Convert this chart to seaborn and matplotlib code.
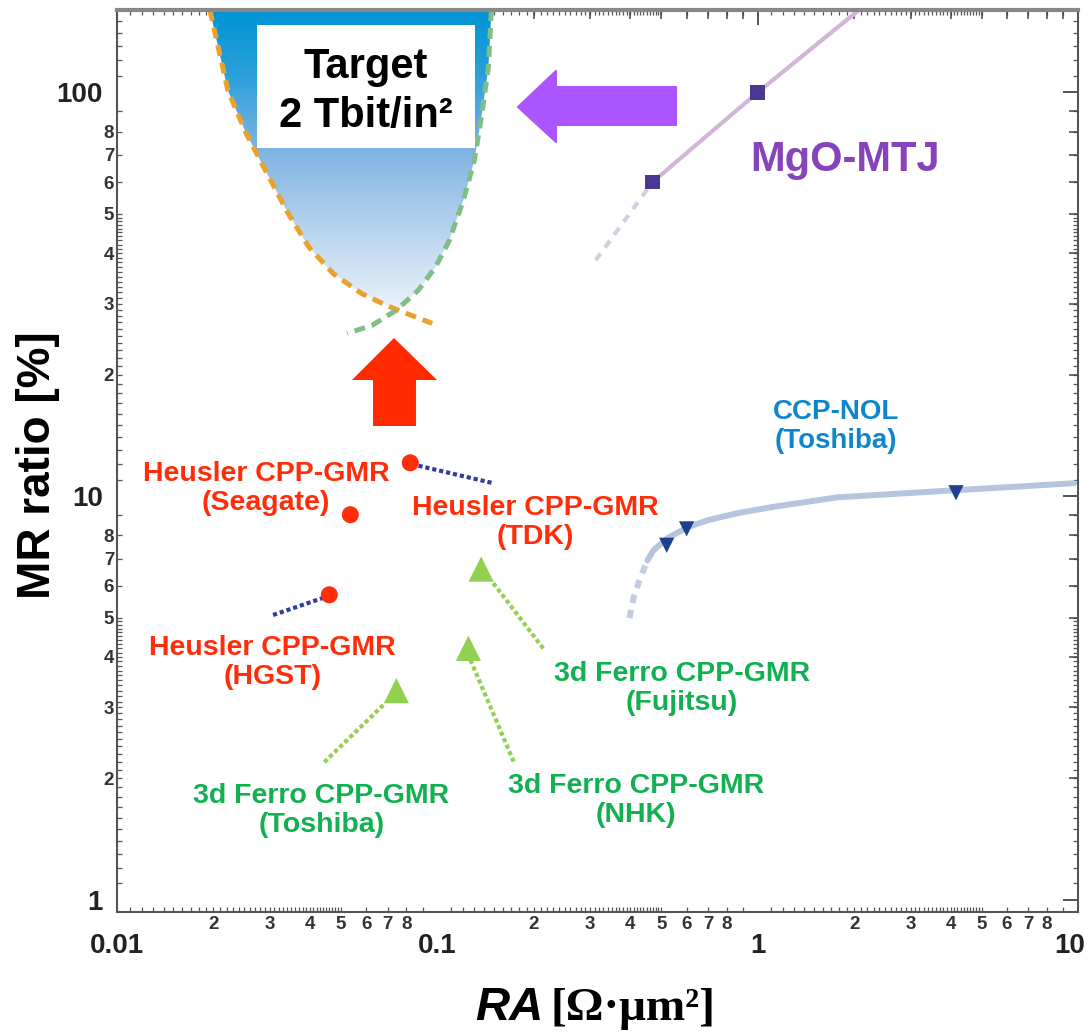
import numpy as np
import matplotlib
matplotlib.use("Agg")
import matplotlib.pyplot as plt
import matplotlib.transforms as mtransforms
import seaborn as sns
from matplotlib.colors import LinearSegmentedColormap
from matplotlib.patches import Polygon, Rectangle
from matplotlib.ticker import FixedLocator, FixedFormatter

# ---------------- data ----------------
# Heusler CPP-GMR (red dots)
heusler_ra = [0.0823, 0.0535, 0.046]
heusler_mr = [12.1, 9.0, 5.7]
heusler_src = ["TDK", "Seagate", "HGST"]

# 3d ferromagnet CPP-GMR (green triangles)
ferro_ra = [0.137, 0.125, 0.0745]
ferro_mr = [6.6, 4.2, 3.3]
ferro_src = ["Fujitsu", "NHK", "Toshiba"]

# CCP-NOL (Toshiba)
ccp_ra = [0.52, 0.60, 4.16]
ccp_mr = [7.56, 8.3, 10.2]
ccp_trend_ra = [0.453, 0.473, 0.523, 0.604, 0.698, 0.866, 1.098, 1.393, 1.778,
                2.604, 4.16, 6.04, 9.72]
ccp_trend_mr = [6.94, 7.35, 7.87, 8.38, 8.72, 9.08, 9.39, 9.66, 9.94,
                10.12, 10.35, 10.53, 10.77]
ccp_extrap_ra = [0.398, 0.410, 0.431, 0.453]
ccp_extrap_mr = [4.99, 5.62, 6.30, 6.94]

# MgO-MTJ
mgo_ra = [0.47, 1.0]
mgo_mr = [60, 100]
mgo_trend_ra = [0.47, 1.0, 2.07]
mgo_trend_mr = [60, 100, 160]
mgo_extrap_ra = [0.312, 0.47]
mgo_extrap_mr = [38.4, 60]

# boundaries of the 2 Tbit/in2 target window
snr_ra = [0.0195, 0.0222, 0.0253, 0.0294, 0.0342, 0.0398, 0.0473, 0.0579, 0.0693, 0.0788, 0.0964]
snr_mr = [160, 101, 79.2, 63.0, 50.2, 41.3, 35.6, 31.8, 29.7, 28.5, 26.8]
stt_ra = [0.1475, 0.1443, 0.1372, 0.1305, 0.1206, 0.109, 0.0986, 0.0873, 0.0745, 0.0626, 0.0523]
stt_mr = [160, 115, 86.7, 67.9, 54.1, 43.0, 36.9, 32.4, 28.9, 26.5, 25.3]

# axis ticks
x_major = [0.01, 0.1, 1, 10]
x_major_labels = ["0.01", "0.1", "1", "10"]
y_major = [1, 10, 100]
y_major_labels = ["1", "10", "100"]
minor_digits = [2, 3, 4, 5, 6, 7, 8, 9]
labelled_digits = [2, 3, 4, 5, 6, 7, 8]
fine_digits = [1.1, 1.2, 1.3, 1.4, 1.5, 1.6, 1.7, 1.8, 1.9,
               2.1, 2.2, 2.3, 2.4, 2.5, 2.6, 2.7, 2.8, 2.9,
               3.1, 3.2, 3.3, 3.4, 3.5, 3.6, 3.7, 3.8, 3.9,
               4.1, 4.2, 4.3, 4.4, 4.5, 4.6, 4.7, 4.8, 4.9]

# ---------------- style ----------------
sns.set_theme(style="white")
plt.rcParams["font.family"] = ["Liberation Sans", "DejaVu Sans"]
plt.rcParams["font.weight"] = "bold"

RED = "#ff2d0a"
GREEN_TXT = "#12b050"
GREEN_MK = "#92d050"
NAVY = "#2e3e9e"
BLUE_TXT = "#0d86cc"
PURPLE_TXT = "#8743b9"
PURPLE_ARROW = "#aa55ff"

fig = plt.figure(figsize=(10.91, 10.32), dpi=100)
ax = fig.add_axes([117 / 1091, 1 - 912 / 1032, 961 / 1091, 902 / 1032])
ax.set_xscale("log")
ax.set_yscale("log")
ax.set_xlim(0.01, 10)
ax.set_ylim(0.934, 160)
ax.set_autoscale_on(False)
ax.set_facecolor("white")

# ---------------- target window (gradient fill) ----------------
window = np.column_stack([snr_ra[:9] + stt_ra[8::-1], snr_mr[:9] + stt_mr[8::-1]])
clip = Polygon(window, closed=True, transform=ax.transData)
grad_cmap = LinearSegmentedColormap.from_list(
    "target",
    [(0.0, "#ffffff"), (0.64, "#ffffff"), (0.667, "#eaf3fb"), (0.723, "#cce0f3"),
     (0.789, "#a5c8ea"), (0.847, "#7eb4e3"), (0.93, "#2aa0da"), (1.0, "#0094d4")],
)
grad = np.linspace(0, 1, 512).reshape(-1, 1)
im = ax.imshow(grad, cmap=grad_cmap, extent=(0, 1, 0, 1), transform=ax.transAxes,
               origin="lower", aspect="auto", interpolation="bilinear", zorder=1)
im.set_clip_path(clip)

sns.lineplot(x=snr_ra, y=snr_mr, sort=False, estimator=None, ax=ax, color="#eba22c",
             linewidth=3.6, linestyle=(0, (2.2, 1.4)), zorder=2)
sns.lineplot(x=stt_ra, y=stt_mr, sort=False, estimator=None, ax=ax, color="#7fbf85",
             linewidth=3.6, linestyle=(0, (2.2, 1.4)), zorder=2)

# target label box
ax.add_patch(Rectangle((0.1457, 0.847), 0.2268, 0.1364, transform=ax.transAxes,
                       facecolor="white", edgecolor="none", zorder=3))
ax.text(0.259, 0.937, "Target", transform=ax.transAxes, ha="center", va="center",
        fontsize=30, color="black", zorder=4)
ax.text(0.259, 0.882, "2 Tbit/in²", transform=ax.transAxes, ha="center", va="center",
        fontsize=30, color="black", zorder=4)

# ---------------- MgO-MTJ ----------------
sns.lineplot(x=mgo_trend_ra, y=mgo_trend_mr, sort=False, estimator=None, ax=ax,
             color="#d2b6d6", linewidth=3, zorder=2)
sns.lineplot(x=mgo_extrap_ra, y=mgo_extrap_mr, sort=False, estimator=None, ax=ax,
             color="#d6cce0", linewidth=3, linestyle=(0, (2, 1.8)), zorder=2)
sns.scatterplot(x=mgo_ra, y=mgo_mr, ax=ax, marker="s", s=110, color="#4b3896",
                edgecolor="none", zorder=5)
ax.text(1.88, 67.9, "MgO-MTJ", ha="center", va="center", fontsize=30,
        color=PURPLE_TXT, zorder=4)

# ---------------- CCP-NOL ----------------
sns.lineplot(x=ccp_trend_ra, y=ccp_trend_mr, sort=False, estimator=None, ax=ax,
             color="#b7c4de", linewidth=4.3, solid_capstyle="round", zorder=2)
sns.lineplot(x=ccp_extrap_ra, y=ccp_extrap_mr, sort=False, estimator=None, ax=ax,
             color="#c3cbe0", linewidth=4.3, linestyle=(0, (1.4, 1.2)), zorder=2)
sns.scatterplot(x=ccp_ra, y=ccp_mr, ax=ax, marker="v", s=120, color="#1f3f8f",
                edgecolor="none", zorder=5)
ax.text(1.753, 14.9, "CCP-NOL\n(Toshiba)", ha="center", va="center", fontsize=20,
        color=BLUE_TXT, linespacing=1.15, zorder=4)

# ---------------- Heusler CPP-GMR ----------------
leader_style = dict(linewidth=3, linestyle=(0, (1, 0.7)), zorder=3)
sns.lineplot(x=[0.0873, 0.1496], y=[11.9, 10.77], sort=False, estimator=None, ax=ax,
             color=NAVY, **leader_style)
sns.lineplot(x=[0.0307, 0.0437], y=[5.08, 5.59], sort=False, estimator=None, ax=ax,
             color=NAVY, **leader_style)
sns.scatterplot(x=heusler_ra, y=heusler_mr, ax=ax, marker="o", s=150, color=RED,
                edgecolor="none", zorder=5)
heusler_text = {"Seagate": (0.0292, 10.47), "TDK": (0.2024, 8.62), "HGST": (0.0305, 3.88)}
for src in heusler_src:
    tx, ty = heusler_text[src]
    ax.text(tx, ty, f"Heusler CPP-GMR\n({src})", ha="center", va="center",
            fontsize=20.5, color=RED, linespacing=1.15, zorder=4)

# ---------------- 3d ferro CPP-GMR ----------------
sns.lineplot(x=[0.1496, 0.216], y=[6.09, 4.16], sort=False, estimator=None, ax=ax,
             color=GREEN_MK, **leader_style)
sns.lineplot(x=[0.1269, 0.174], y=[3.93, 2.18], sort=False, estimator=None, ax=ax,
             color=GREEN_MK, **leader_style)
sns.lineplot(x=[0.0678, 0.0440], y=[3.04, 2.18], sort=False, estimator=None, ax=ax,
             color=GREEN_MK, **leader_style)
sns.scatterplot(x=ferro_ra, y=ferro_mr, ax=ax, marker="^", s=330, color=GREEN_MK,
                edgecolor="none", zorder=5)
ferro_text = {"Fujitsu": (0.579, 3.35), "NHK": (0.416, 1.768), "Toshiba": (0.0434, 1.67)}
for src in ferro_src:
    tx, ty = ferro_text[src]
    ax.text(tx, ty, f"3d Ferro CPP-GMR\n({src})", ha="center", va="center",
            fontsize=20.5, color=GREEN_TXT, linespacing=1.15, zorder=4)

# ---------------- arrows ----------------
up_arrow = [(0.2882, 0.6364), (0.3330, 0.5898), (0.3111, 0.5898), (0.3111, 0.5388),
            (0.2664, 0.5388), (0.2664, 0.5898), (0.2445, 0.5898)]
ax.add_patch(Polygon(up_arrow, closed=True, transform=ax.transAxes, facecolor="#ff2a00",
                     edgecolor="none", zorder=4))
left_arrow = [(0.4173, 0.8925), (0.4568, 0.9324), (0.4568, 0.9146), (0.5817, 0.9146),
              (0.5817, 0.8725), (0.4568, 0.8725), (0.4568, 0.8537)]
ax.add_patch(Polygon(left_arrow, closed=True, transform=ax.transAxes,
                     facecolor=PURPLE_ARROW, edgecolor=PURPLE_ARROW, linewidth=1.5,
                     joinstyle="round", zorder=4))

# ---------------- axes, ticks ----------------
def decade_values(digits, lo, hi):
    vals = []
    for k in range(lo, hi):
        for d in digits:
            vals.append(d * 10.0 ** k)
    return vals

x_minor = decade_values(minor_digits, -2, 1)
y_minor = decade_values(minor_digits, 0, 2)
ax.xaxis.set_major_locator(FixedLocator(x_major))
ax.xaxis.set_major_formatter(FixedFormatter(x_major_labels))
ax.xaxis.set_minor_locator(FixedLocator(x_minor))
ax.xaxis.set_minor_formatter(FixedFormatter(
    [str(d) if d in labelled_digits else "" for _ in range(3) for d in minor_digits]))
ax.yaxis.set_major_locator(FixedLocator(y_major))
ax.yaxis.set_major_formatter(FixedFormatter(y_major_labels))
ax.yaxis.set_minor_locator(FixedLocator(y_minor))
ax.yaxis.set_minor_formatter(FixedFormatter(
    [str(d) if d in labelled_digits else "" for _ in range(2) for d in minor_digits]))

ax.tick_params(which="both", direction="in", top=True, right=True, color="#444")
ax.tick_params(which="major", length=11, width=1.3, labelsize=20, labelcolor="#222")
ax.tick_params(which="minor", length=6.5, width=1.1, labelsize=13.5, labelcolor="#333")
ax.tick_params(axis="x", which="major", pad=15)
ax.tick_params(axis="x", which="minor", pad=3)
ax.tick_params(axis="y", which="major", pad=10)
ax.tick_params(axis="y", which="minor", pad=2)
for sp in ax.spines.values():
    sp.set_color("#555")
    sp.set_linewidth(1.5)
ax.spines["top"].set_color("#888")
ax.spines["top"].set_linewidth(3)

# fine graduation marks on all four sides
x_fine = decade_values(fine_digits, -2, 1)
y_fine = decade_values(fine_digits, 0, 3)
for loc in ("bottom", "top"):
    sec = ax.secondary_xaxis(loc)
    sec.set_xticks(x_fine)
    sec.tick_params(which="both", direction="in", length=3.5, width=0.9, color="#555",
                    labelbottom=False, labeltop=False)
    for sp in sec.spines.values():
        sp.set_visible(False)
for loc in ("left", "right"):
    sec = ax.secondary_yaxis(loc)
    sec.set_yticks(y_fine)
    sec.tick_params(which="both", direction="in", length=3.5, width=0.9, color="#555",
                    labelleft=False, labelright=False)
    for sp in sec.spines.values():
        sp.set_visible(False)

# axis titles
fig.text(38 / 1091, 1 - 465 / 1032, "MR ratio [%]", rotation=90, ha="center",
         va="center", fontsize=33, color="black")
fig.text(543 / 1091, 1 - 1020 / 1032, "RA", ha="right", va="baseline", fontsize=34,
         fontstyle="italic", color="black")
fig.text(551 / 1091, 1 - 1020 / 1032, "[Ω·μm²]", ha="left", va="baseline", fontsize=34,
         family=["Liberation Serif", "DejaVu Serif"], color="black")

# keep the last decade label inside the canvas edge
fig.canvas.draw()
last = ax.xaxis.get_major_ticks()[-1].label1
last.set_transform(last.get_transform() +
                   mtransforms.ScaledTranslation(-0.08, 0, fig.dpi_scale_trans))

fig.savefig("out.png", dpi=100, facecolor="white")
